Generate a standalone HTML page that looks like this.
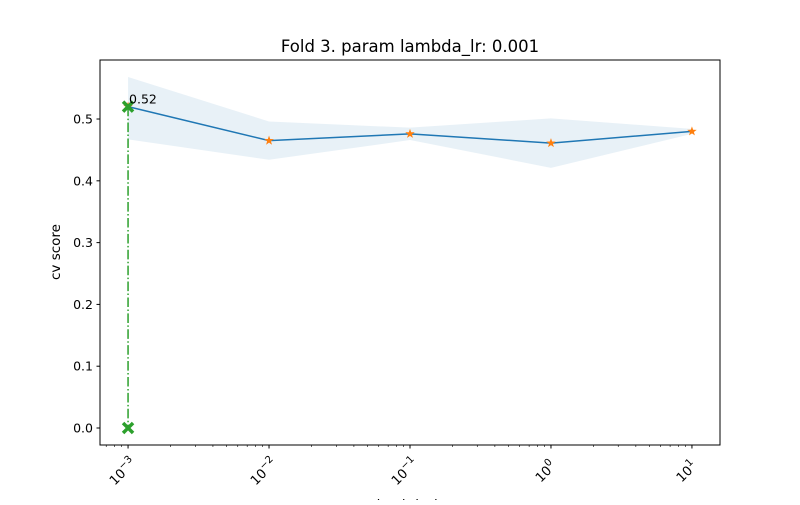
<!DOCTYPE html>
<html><head><meta charset="utf-8"><style>body{margin:0;background:#fff}svg text{font-family:"DejaVu Sans","Liberation Sans",sans-serif}</style></head>
<body>
<svg id="chart" width="800" height="500" xmlns="http://www.w3.org/2000/svg"></svg>
<script>
const exponents = [-3, -2, -1, 0, 1];
const meanScores = [0.52, 0.465, 0.476, 0.461, 0.48];
const upperScores = [0.568, 0.496, 0.486, 0.501, 0.484];
const lowerScores = [0.467, 0.434, 0.466, 0.421, 0.476];
const yTicks = [0.0, 0.1, 0.2, 0.3, 0.4, 0.5];
const bestIndex = 0;
const bestLabel = "0.52";

const L=100,R=720,T=60,B=445;
const xMin=-3.199,xMax=1.199,yMin=-0.0275,yMax=0.5955;
const xs=e=>L+(e-xMin)/(xMax-xMin)*(R-L);
const ys=v=>B-(v-yMin)/(yMax-yMin)*(B-T);
const svg=document.getElementById('chart');
const NS='http://www.w3.org/2000/svg';
function mk(tag,attrs,name,text){const el=document.createElementNS(NS,tag);for(const k in attrs)el.setAttribute(k,attrs[k]);


if(text!==undefined)el.textContent=text;svg.appendChild(el);return el;}

let pts=exponents.map((e,i)=>xs(e)+','+ys(upperScores[i]));
for(let i=exponents.length-1;i>=0;i--)pts.push(xs(exponents[i])+','+ys(lowerScores[i]));
mk('polygon',{points:pts.join(' '),fill:'#1f77b4','fill-opacity':0.1},'std-band');
mk('polyline',{points:exponents.map((e,i)=>xs(e)+','+ys(meanScores[i])).join(' '),fill:'none',stroke:'#1f77b4','stroke-width':1.5},'mean-line');
function star(cx,cy,r){let p=[];for(let k=0;k<10;k++){const a=-Math.PI/2+k*Math.PI/5;const rr=k%2?r*0.4:r;p.push((cx+rr*Math.cos(a)).toFixed(2)+','+(cy+rr*Math.sin(a)).toFixed(2));}return p.join(' ');}
exponents.forEach((e,i)=>{mk('polygon',{points:star(xs(e),ys(meanScores[i]),5),fill:'#ff7f0e'},'mean-marker');});
const bx=xs(exponents[bestIndex]);
mk('line',{x1:bx,y1:ys(meanScores[bestIndex]),x2:bx,y2:ys(0),stroke:'#2ca02c','stroke-width':1.5,'stroke-dasharray':'9.6,2.4,1.5,2.4'},'best-vline');
function xmark(cx,cy,name){mk('path',{d:`M${cx-5},${cy-5}L${cx+5},${cy+5}M${cx-5},${cy+5}L${cx+5},${cy-5}`,stroke:'#2ca02c','stroke-width':3.5},name);}
xmark(bx,ys(meanScores[bestIndex]),'best-marker');
xmark(bx,ys(0),'best-base-marker');
mk('text',{x:bx+1,y:ys(meanScores[bestIndex])-3,'font-size':12.5,fill:'#000'},'best-score-label',bestLabel);
mk('rect',{x:L,y:T,width:R-L,height:B-T,fill:'none',stroke:'#000','stroke-width':1},'axes-frame');
yTicks.forEach(v=>{const y=ys(v);mk('line',{x1:L-3.5,y1:y,x2:L,y2:y,stroke:'#000'},'y-tick');
mk('text',{x:L-7,y:y+4.5,'font-size':12.5,'text-anchor':'end'},'y-tick-label',v.toFixed(1));});
exponents.forEach(e=>{const x=xs(e);mk('line',{x1:x,y1:B,x2:x,y2:B+3.5,stroke:'#000'},'x-tick');
const cx=x-5,cy=B+27;
const t=mk('text',{x:cx,y:cy+4,'font-size':13,'text-anchor':'middle',transform:`rotate(-45 ${cx} ${cy})`},'x-tick-label');
t.textContent='10';const s=document.createElementNS(NS,'tspan');s.setAttribute('dy','-6');s.setAttribute('font-size','10');s.textContent=(e<0?'\u2212':'')+Math.abs(e);t.appendChild(s);});
for(let d=-4;d<=1;d++)for(let m=2;m<=9;m++){const e=d+Math.log10(m);if(e<xMin||e>xMax)continue;const x=xs(e);
mk('line',{x1:x,y1:B,x2:x,y2:B+2,stroke:'#000','stroke-width':0.6},'x-minor-tick');}
mk('text',{x:410,y:52,'font-size':16.5,'text-anchor':'middle'},'chart-title','Fold 3. param lambda_lr: 0.001');
mk('text',{x:60,y:252,'font-size':13.5,'text-anchor':'middle',transform:'rotate(-90 60 252)'},'y-axis-title','cv score');
mk('text',{x:410,y:509,'font-size':13.5,'text-anchor':'middle'},'x-axis-title','lambda_lr');
</script>
</body></html>
